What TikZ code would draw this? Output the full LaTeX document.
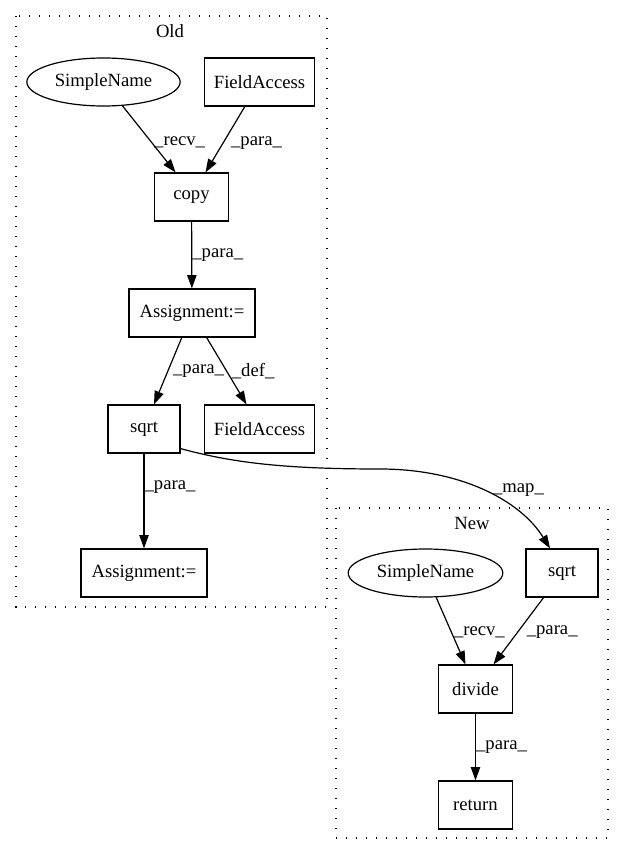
\documentclass[tikz,border=0pt]{standalone}
\usepackage{fontspec}
\setmainfont{Liberation Serif}
\usetikzlibrary{arrows.meta,shapes.geometric}

\begin{document}
\begin{tikzpicture}[x=0.75pt,y=-0.75pt,
		every node/.style={font=\fontsize{14}{16}\selectfont},
		box/.style={draw,rectangle,line width=0.9pt,minimum height=36pt,inner sep=0pt},
		oval/.style={draw,ellipse,line width=0.9pt,minimum height=36pt,minimum width=115pt,inner sep=0pt},
		lbl/.style={right,inner sep=1.5pt},
		edge/.style={-{Triangle[length=10pt,width=7pt]},line width=0.9pt},
		cluster/.style={line width=0.9pt,dash pattern=on 1pt off 6.5pt}]
			\useasboundingbox (0,0) rectangle (625,856);
			% clusters
			\draw[cluster] (16,16) rectangle (327,607);
			\node[] (oldlbl) at (170,31) {Old};
			\draw[cluster] (336,508) rectangle (608,838);
			\node[] (newlbl) at (472,523) {New};
			% old graph
			\node[oval] (sn1) at (103.5,82) {SimpleName};
			\node[box,minimum width=83pt] (fa1) at (259.5,82) {FieldAccess};
			\node[box,minimum width=55pt] (copy) at (191.5,197) {copy};
			\node[box,minimum width=94.5pt] (asg1) at (192,313) {Assignment:=};
			\node[box,minimum width=54pt] (sqrt1) at (144,429) {sqrt};
			\node[box,minimum width=83pt] (fa2) at (259.5,429) {FieldAccess};
			\node[box,minimum width=94.5pt] (asg2) at (144,573) {Assignment:=};
			% new graph
			\node[oval,minimum width=116pt] (sn2) at (425.5,573) {SimpleName};
			\node[box,minimum width=54pt] (sqrt2) at (562,573) {sqrt};
			\node[box,minimum width=55pt] (div) at (475.5,689) {divide};
			\node[box,minimum width=55pt] (ret) at (475.5,805) {return};
			% edges
			\draw[edge] (sn1) -- node[lbl,pos=0.55] {\_recv\_} ([shift={(-16,0)}]copy.north);
			\draw[edge] (fa1) -- node[lbl,pos=0.55,xshift=4pt] {\_para\_} ([shift={(14,0)}]copy.north);
			\draw[edge] (copy) -- node[lbl,inner sep=0pt] {\_para\_} (asg1);
			\draw[edge] (asg1) -- node[lbl,xshift=2pt] {\_para\_} ([shift={(10,0)}]sqrt1.north);
			\draw[edge] (asg1) -- node[lbl,xshift=2pt] {\_def\_} ([shift={(-13,0)}]fa2.north);
			\draw[edge] (sqrt1) -- node[lbl,pos=0.35,inner sep=0pt] {\_para\_} (asg2);
			\draw[edge] ([shift={(0,-5)}]sqrt1.south east) .. controls (230,462) and (280,469) .. (380,469)
				.. controls (460,469) and (520,500) .. node[lbl,xshift=5pt] {\_map\_} ([shift={(-12,0)}]sqrt2.north);
			\draw[edge] (sn2) -- node[lbl,pos=0.52] {\_recv\_} ([shift={(-10,0)}]div.north);
			\draw[edge] (sqrt2) -- node[lbl,pos=0.52,xshift=5pt] {\_para\_} ([shift={(18,0)}]div.north);
			\draw[edge] (div) -- node[lbl,inner sep=0pt] {\_para\_} (ret);
			
		\end{tikzpicture}
\end{document}
